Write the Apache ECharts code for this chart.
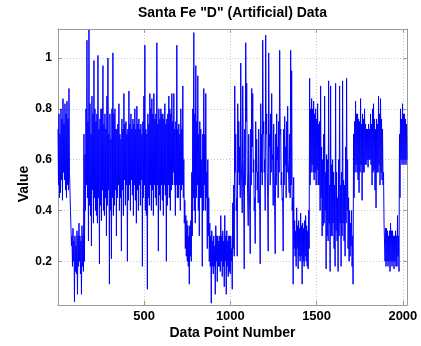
<!DOCTYPE html>
<html><head><meta charset="utf-8">
<script src="https://cdn.jsdelivr.net/npm/echarts@6/dist/echarts.min.js"></script>
<style>html,body{margin:0;padding:0;background:#fff}#c{width:421px;height:346px}</style>
</head><body><div id="c"></div>
<script>
const titleText = 'Santa Fe "D" (Artificial) Data';
const xName = 'Data Point Number';
const yName = 'Value';
const xRange = [1, 2024];
const yRange = [0.028, 1.114];

// Upper and lower extent of the trace, read per pixel column from the picture, left to right
const hi1 = [0.72,0.78,0.70,0.80,0.76,0.84,0.74,0.82,0.78,0.83,0.76,0.88];
const lo1 = [0.50,0.45,0.47,0.52,0.44,0.55,0.52,0.48,0.45,0.50,0.48,0.55];
const hi2 = [0.55,0.40,0.30,0.33,0.28,0.30,0.26,0.32,0.30,0.35,0.30,0.28,0.34,0.30];
const lo2 = [0.40,0.26,0.18,0.20,0.04,0.16,0.15,0.07,0.18,0.20,0.15,0.07,0.18,0.16];
const hi3 = [0.70,0.62,0.80,1.07,0.75,1.11,0.82,0.70,0.85,0.78,0.99,0.80,0.75,0.78,1.01,0.72,0.76,0.80,0.80,0.97,0.74,0.78,0.72,0.85,1.00,0.70,0.78,0.68,0.80,1.02,0.78,0.80,0.72];
const lo3 = [0.20,0.40,0.50,0.45,0.28,0.42,0.38,0.26,0.48,0.35,0.45,0.40,0.38,0.35,0.45,0.19,0.42,0.36,0.48,0.40,0.38,0.45,0.30,0.42,0.48,0.11,0.40,0.21,0.45,0.38,0.42,0.48,0.30];
const hi4 = [0.72,0.74,0.82,0.70,0.68,0.76,0.72,0.86,0.74,0.75,0.70,0.72,0.87,0.74,0.78,0.72,0.76,0.74,0.80,0.72,0.81,0.74,0.76,0.72,0.74,0.70,0.75,0.85,1.05,0.72,0.70,0.78,0.74,0.86,0.80,0.84,0.78,0.86,0.76,0.78,1.06,0.74,0.80,0.76,0.80,0.78,0.78,0.76,0.82,0.74,0.76,0.78,0.85,0.80,0.78,0.86];
const lo4 = [0.45,0.50,0.40,0.45,0.24,0.48,0.38,0.52,0.42,0.50,0.20,0.44,0.50,0.40,0.52,0.46,0.38,0.50,0.44,0.35,0.48,0.40,0.50,0.42,0.52,0.18,0.45,0.50,0.40,0.38,0.09,0.45,0.42,0.50,0.40,0.48,0.38,0.50,0.45,0.42,0.50,0.24,0.46,0.40,0.50,0.44,0.38,0.50,0.46,0.20,0.42,0.50,0.45,0.40,0.48,0.50];
const hi5 = [0.75,0.86,0.72,0.75,1.05,0.72,0.74,0.70,0.80,0.72,0.89,0.60,0.44,0.38,0.36,0.34,0.30,0.34,0.36,0.55,0.80,1.10,0.78,0.97,0.75,0.93,0.70,0.75,0.72,0.60,0.70,0.88,0.70,0.86,0.55,0.60,0.45,0.35,0.30,0.32,0.28,0.30,0.26,0.34,0.30,0.30,0.28,0.30,0.38,0.30,0.32,0.28,0.38,0.30,0.32,0.28,0.30];
const lo5 = [0.55,0.50,0.38,0.50,0.45,0.45,0.50,0.40,0.48,0.50,0.45,0.35,0.25,0.22,0.20,0.18,0.11,0.22,0.20,0.30,0.45,0.40,0.35,0.45,0.50,0.40,0.30,0.45,0.45,0.18,0.40,0.50,0.40,0.45,0.25,0.30,0.20,0.18,0.035,0.18,0.15,0.18,0.07,0.20,0.12,0.18,0.18,0.16,0.20,0.14,0.18,0.10,0.20,0.07,0.18,0.14,0.16];
const hi6 = [0.30,0.30,0.25,0.43,0.50,0.89,0.70,0.45,0.82,0.75,0.65,0.98,0.60,0.89,0.45,0.72,1.06,0.90,0.55,0.70,0.40,0.72,0.88,0.86,0.60,0.45,0.75,0.68,0.55,0.72,0.40,0.82,0.70,1.07,0.75,0.60,1.09,0.78,0.45,1.02,0.70,0.78,0.86,0.62,0.74,0.40,0.70,0.78,0.65,0.75,1.03,0.72,0.55,0.45,0.72,0.77,0.65,0.75,0.81,0.60];
const lo6 = [0.15,0.20,0.09,0.25,0.22,0.55,0.40,0.22,0.55,0.50,0.45,0.60,0.39,0.60,0.17,0.50,0.75,0.55,0.34,0.50,0.23,0.50,0.65,0.55,0.40,0.27,0.55,0.48,0.43,0.50,0.19,0.55,0.50,0.70,0.55,0.40,0.70,0.55,0.24,0.65,0.50,0.55,0.60,0.42,0.55,0.23,0.50,0.60,0.45,0.55,0.70,0.50,0.44,0.24,0.50,0.58,0.45,0.55,0.60,0.47];
const hi7 = [0.70,1.03,0.95,0.45,0.53,0.36,0.32,0.41,0.34,0.36,0.33,0.39,0.34,0.35,0.33,0.36,0.38,0.34,0.32,0.40,0.92,0.80,0.84,0.80,0.83,0.78,0.80,0.76,0.82,0.74,0.75,0.89,0.65,0.60,0.70,0.85,0.55,0.62,0.60,0.91,0.50,0.89,0.58,0.60,0.55,0.50,0.90,0.55,0.45,0.60,0.89,0.50,0.55,0.91,0.52,0.50,0.65,0.92,0.60];
const lo7 = [0.45,0.50,0.40,0.11,0.25,0.22,0.18,0.25,0.17,0.22,0.20,0.22,0.11,0.20,0.18,0.22,0.20,0.18,0.17,0.25,0.50,0.55,0.58,0.55,0.52,0.55,0.50,0.56,0.50,0.50,0.40,0.45,0.30,0.34,0.35,0.40,0.17,0.30,0.28,0.35,0.16,0.30,0.30,0.35,0.25,0.18,0.32,0.28,0.16,0.30,0.35,0.18,0.30,0.35,0.28,0.22,0.35,0.40,0.25];
const hi8 = [0.45,0.40,0.35,0.40,0.30,0.70,0.75,0.83,0.78,0.78,0.76,0.75,0.84,0.74,0.78,0.76,0.80,0.74,0.72,0.72,0.74,0.72,0.78,0.74,0.80,0.82,0.76,0.72,0.76,0.74,0.85,0.78,0.84,0.76,0.72,0.55,0.35,0.33,0.33,0.32,0.30,0.32,0.35,0.32,0.32,0.30,0.30,0.32,0.30,0.38,0.30,0.70,0.80,0.76,0.82,0.78,0.78,0.76,0.74];
const lo8 = [0.20,0.22,0.26,0.18,0.11,0.45,0.55,0.58,0.55,0.52,0.47,0.55,0.58,0.44,0.55,0.55,0.58,0.58,0.60,0.57,0.60,0.60,0.58,0.50,0.55,0.56,0.48,0.41,0.55,0.55,0.58,0.50,0.55,0.52,0.50,0.35,0.20,0.18,0.20,0.18,0.20,0.16,0.20,0.18,0.20,0.17,0.20,0.18,0.18,0.22,0.16,0.45,0.60,0.58,0.60,0.58,0.60,0.58,0.60];

const highs = [].concat(hi1, hi2, hi3, hi4, hi5, hi6, hi7, hi8);
const lows = [].concat(lo1, lo2, lo3, lo4, lo5, lo6, lo7, lo8);
const values = [];
highs.forEach((h, i) => { values.push(h, lows[i]); });
const step = (xRange[1] - xRange[0]) / (values.length - 1);
const data = values.map((v, i) => [xRange[0] + i * step, v]);

const F = '"Liberation Sans", Arial, Helvetica, sans-serif';
const boxColor = '#9a9a9a';
const gridColor = '#c8c8c8';

function axisBase(pos, isX, primary) {
  return {
    type: 'value',
    position: pos,
    min: isX ? xRange[0] : yRange[0],
    max: isX ? xRange[1] : yRange[1],
    axisLine: { show: true, onZero: false, lineStyle: { color: boxColor, width: 1 } },
    axisTick: { show: true, inside: true, length: 4, lineStyle: { color: boxColor } },
    axisLabel: primary ? {
      show: true, showMinLabel: false, showMaxLabel: false,
      color: '#000', fontFamily: F, fontWeight: 'bold', fontSize: isX ? 13 : 12,
      margin: isX ? 5 : 6,
      formatter: v => String(Math.round(v * 100) / 100)
    } : { show: false },
    splitLine: primary ? { show: true, lineStyle: { color: gridColor, type: [1, 2], width: 1 } } : { show: false }
  };
}

const chart = echarts.init(document.getElementById('c'), null, { renderer: 'canvas' });
chart.setOption({
  animation: false,
  backgroundColor: '#fff',
  grid: { left: 58, right: 14, top: 29, bottom: 41, containLabel: false },
  xAxis: [axisBase('bottom', true, true), axisBase('top', true, false)],
  yAxis: [axisBase('left', false, true), axisBase('right', false, false)],
  graphic: [
    { type: 'text', x: 232.5, y: 13, style: { text: titleText, fill: '#000', font: 'bold 14px ' + F, textAlign: 'center', textVerticalAlign: 'middle' } },
    { type: 'text', x: 232.5, y: 333, style: { text: xName, fill: '#000', font: 'bold 14px ' + F, textAlign: 'center', textVerticalAlign: 'middle' } },
    { type: 'text', x: 24, y: 184, rotation: Math.PI / 2, style: { text: yName, fill: '#000', font: 'bold 14px ' + F, textAlign: 'center', textVerticalAlign: 'middle' } }
  ],
  series: [{
    type: 'line',
    data: data,
    xAxisIndex: 0, yAxisIndex: 0,
    showSymbol: false, symbol: 'none',
    sampling: null,
    lineStyle: { color: '#0000ff', width: 1 },
    clip: true
  }]
});
</script>
</body></html>
